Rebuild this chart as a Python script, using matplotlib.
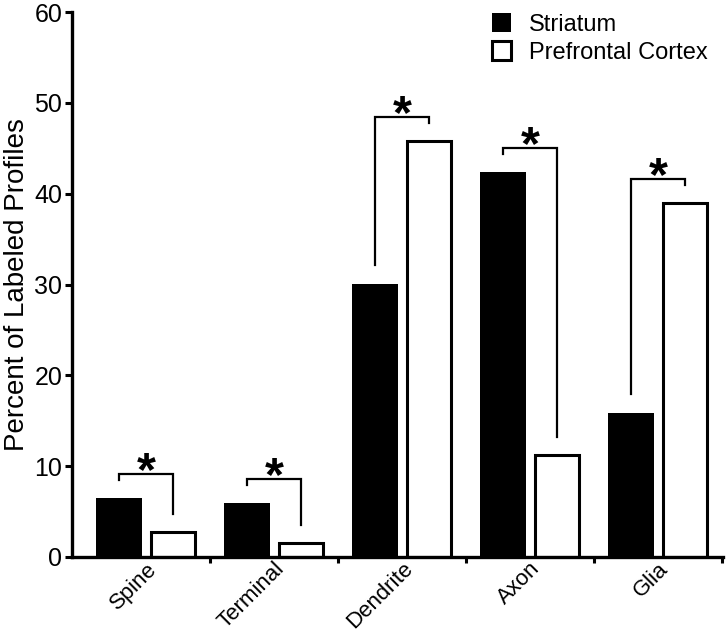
import matplotlib
matplotlib.use("Agg")
import matplotlib.pyplot as plt
import matplotlib.transforms as mtransforms
import numpy as np

plt.rcParams['font.family'] = ['Liberation Sans', 'DejaVu Sans']

categories = ["Spine", "Terminal", "Dendrite", "Axon", "Glia"]
striatum = [6.5, 5.95, 30.1, 42.4, 15.9]
prefrontal = [2.75, 1.5, 45.8, 11.2, 39.0]
series_names = ["Striatum", "Prefrontal Cortex"]

x = np.arange(len(categories))
off = 0.21

fig = plt.figure(figsize=(7.26, 6.34), dpi=100)
ax = fig.add_axes([72 / 726, 1 - 557 / 634, 651 / 726, 545 / 634])

ax.bar(x - off, striatum, width=0.36, color="black", edgecolor="black",
       linewidth=0, label=series_names[0], zorder=2)
ax.bar(x + off, prefrontal, width=0.345, color="white", edgecolor="black",
       linewidth=2.2, label=series_names[1], zorder=2)

# significance brackets
for i in range(len(categories)):
    top = max(striatum[i], prefrontal[i]) + 2.6
    left_end = min(striatum[i] + 2.0, top - 0.6)
    right_end = min(prefrontal[i] + 2.0, top - 0.6)
    ax.plot([x[i] - off, x[i] - off, x[i] + off, x[i] + off],
            [left_end, top, top, right_end], color="black", lw=1.6,
            solid_joinstyle="miter", zorder=3)
    ax.text(x[i], top + 0.2, "*", ha="center", va="center", fontsize=35,
            fontweight="bold")

ax.set_xlim(-0.58, 4.51)
ax.set_ylim(0, 60)
ax.set_yticks(np.arange(0, 61, 10))
ax.set_xticks(x)
ax.set_xticklabels(categories, rotation=45, ha="right", va="top",
                   rotation_mode="anchor")
shift = mtransforms.ScaledTranslation(6 / 100, 0, fig.dpi_scale_trans)
for lab in ax.get_xticklabels():
    lab.set_transform(lab.get_transform() + shift)
ax.set_xticks(np.arange(0.5, 5, 1), minor=True)
ax.tick_params(axis="x", which="major", length=0, pad=1, labelsize=16)
ax.tick_params(axis="x", which="minor", length=4, width=2.2, direction="out")
ax.tick_params(axis="y", length=5, width=2.2, labelsize=18, pad=2)

for side in ["top", "right"]:
    ax.spines[side].set_visible(False)
for side in ["left", "bottom"]:
    ax.spines[side].set_linewidth(2.4)

ax.set_ylabel("Percent of Labeled Profiles", fontsize=20, labelpad=3)

ax.legend(loc="upper left", bbox_to_anchor=(492 / 726, 1 - 13 / 634),
          bbox_transform=fig.transFigure, frameon=False, fontsize=17,
          handlelength=0.8, handleheight=0.85, handletextpad=0.75,
          labelspacing=0.25, borderpad=0, borderaxespad=0)

fig.savefig("out.png", dpi=100)
